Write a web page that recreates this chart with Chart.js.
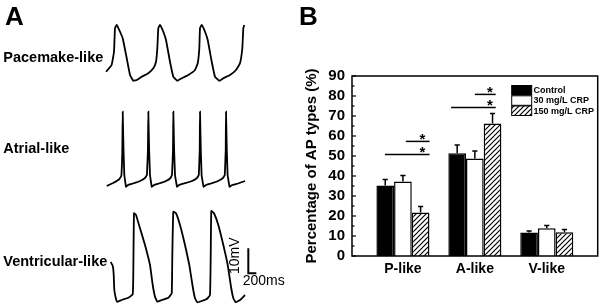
<!DOCTYPE html>
<html><head><meta charset="utf-8">
<script src="https://cdn.jsdelivr.net/npm/chart.js@4.4.1/dist/chart.umd.min.js"></script>
<style>
html,body{margin:0;padding:0;background:#fff;width:600px;height:306px;overflow:hidden}
#a{position:absolute;left:0;top:0}
#b{position:absolute;left:300px;top:0}
</style></head><body>
<canvas id="a" width="300" height="306"></canvas>
<canvas id="b" width="300" height="306"></canvas>
<script>
// ---------- Panel A: action potential traces, [time (ms), voltage (mV, relative)] ----------
const pacemakerTrace = [
 [150,3.7],[290,6.4],[350,11.7],[375,21.1],[418,22.4],[500,19.7],[568,17.1],[668,9.1],[750,2.4],[833,0.1],
 [918,0.4],[1043,1.7],[1208,3.1],[1333,5.1],[1400,7.7],[1433,13.1],[1458,21.1],[1500,22.4],[1583,19.7],[1650,16.4],
 [1750,7.7],[1833,1.7],[1933,0.1],[2043,1.1],[2208,2.4],[2375,4.4],[2443,7.1],[2483,13.1],[2500,21.1],[2543,22.4],
 [2625,19.7],[2693,16.4],[2793,7.7],[2875,1.7],[2983,0.1],[3083,1.1],[3250,2.4],[3400,4.4],[3500,7.1],[3558,13.1],
 [3583,21.1],[3608,22.4]
];
const atrialTrace = [
 [168,0.4],[325,1.6],[475,3],[533,4.4],[558,14.8],[568,30.1],[588,14.8],[608,4.8],[650,0.1],[700,0.8],
 [825,1.4],[1000,2.4],[1125,3.6],[1173,4.8],[1198,14.8],[1208,30.1],[1228,14.8],[1250,4.8],[1293,0.1],[1350,0.8],
 [1475,1.4],[1650,2.4],[1763,3.6],[1800,4.8],[1825,14.8],[1833,30.1],[1853,14.8],[1875,4.8],[1925,0.1],[1975,0.8],
 [2100,1.4],[2300,2.4],[2425,3.6],[2470,4.8],[2493,14.8],[2500,30.1],[2520,14.8],[2540,4.8],[2588,0.1],[2650,0.8],
 [2775,1.4],[2950,2.4],[3075,3.6],[3120,4.8],[3143,14.8],[3150,30.1],[3170,14.8],[3190,4.8],[3238,0.1],[3300,0.8],
 [3450,1.4],[3625,2.4]
];
const ventricularTrace = [
 [268,16],[320,14.4],[343,10.8],[358,4.8],[400,1.2],[433,0.1],[543,0.8],[708,1.7],[818,3.1],[833,12.1],
 [850,35.5],[900,34.8],[1000,29.5],[1125,22.8],[1250,14.8],[1318,6.8],[1375,2.1],[1433,0.1],[1543,0.8],[1708,1.7],
 [1793,3.5],[1808,18.8],[1833,36.1],[1900,35.5],[2000,30.8],[2125,22.8],[2233,14.8],[2318,6.1],[2375,1.5],[2433,-0.1],
 [2543,0.4],[2668,1.2],[2750,2.8],[2768,18.8],[2783,36.4],[2850,35.5],[2958,30.8],[3083,22.8],[3193,14.8],[3275,6.1],
 [3333,1.5],[3393,-0.1],[3500,0.8],[3625,2.8]
];
const traceLabels = ['Pacemake-like','Atrial-like','Ventricular-like'];
const scaleBarMs = 200;
const scaleBarMV = 10;
const scaleBarOrigin = [3708, 11.5];

// ---------- Panel B: percentage of AP types ----------
const categories = ['P-like','A-like','V-like'];
const seriesNames = ['Control','30 mg/L CRP','150 mg/L CRP'];
const controlValues = [35.2, 51.4, 11.7];
const crp30Values   = [37.2, 48.7, 13.9];
const crp150Values  = [21.8, 66.3, 11.9];
const controlErr = [3.1, 4.1, 0.8];
const crp30Err   = [3.0, 3.8, 1.3];
const crp150Err  = [2.9, 5.0, 1.3];
const yTicks = [0,10,20,30,40,50,60,70,80,90];
// significance brackets: from x1 to x2 (category units), at height y (%), star above at starX
const sigBrackets = [
 {x1:0.75, x2:1.37, y:50.8, starX:1.27},
 {x1:1.04, x2:1.37, y:57.3, starX:1.27},
 {x1:1.67, x2:2.29, y:74.3, starX:2.21},
 {x1:2.00, x2:2.29, y:80.8, starX:2.21}
];

const FONT = '"Liberation Sans", Arial, Helvetica, sans-serif';

// ---------- Chart A ----------
const toXY = arr => arr.map(p => ({x:p[0], y:p[1]}));
const scaleBar = [
 {x:scaleBarOrigin[0], y:scaleBarOrigin[1]+scaleBarMV},
 {x:scaleBarOrigin[0], y:scaleBarOrigin[1]},
 {x:scaleBarOrigin[0]+scaleBarMs, y:scaleBarOrigin[1]}
];
const traceStyle = {showLine:true, borderColor:'#000', borderWidth:1.8, pointRadius:0, tension:0.1, fill:false};

const panelALabels = {
 id:'panelALabels',
 afterDraw(chart){
  const ctx = chart.ctx;
  ctx.save();
  ctx.fillStyle = '#000';
  ctx.textAlign = 'left'; ctx.textBaseline = 'alphabetic';
  ctx.font = 'bold 26px ' + FONT;
  ctx.fillText('A', 5, 25);
  ctx.font = 'bold 14.5px ' + FONT;
  const base = [61.7, 153.3, 266];
  traceLabels.forEach((t,i)=>ctx.fillText(t, 3.3, base[i]));
  // scale bar labels
  const xs = chart.scales.x, y3 = chart.scales.y3;
  const bx = xs.getPixelForValue(scaleBarOrigin[0]);
  const by = y3.getPixelForValue(scaleBarOrigin[1]);
  const byTop = y3.getPixelForValue(scaleBarOrigin[1]+scaleBarMV);
  ctx.font = '14px ' + FONT;
  ctx.fillText(scaleBarMs + 'ms', bx - 5.6, by + 12);
  ctx.translate(bx - 13, (by+byTop)/2 - 5);
  ctx.rotate(-Math.PI/2);
  ctx.textAlign = 'center'; ctx.textBaseline = 'middle';
  ctx.fillText(scaleBarMV + 'mV', 0, 0);
  ctx.restore();
 }
};

new Chart(document.getElementById('a'), {
 type:'scatter',
 data:{datasets:[
  Object.assign({data:toXY(pacemakerTrace), yAxisID:'y1'}, traceStyle),
  Object.assign({data:toXY(atrialTrace), yAxisID:'y2'}, traceStyle, {tension:0.05}),
  Object.assign({data:toXY(ventricularTrace), yAxisID:'y3'}, traceStyle),
  {data:scaleBar, yAxisID:'y3', showLine:true, borderColor:'#000', borderWidth:2, pointRadius:0, tension:0}
 ]},
 options:{
  animation:false, responsive:false, events:[],
  layout:{padding:0},
  plugins:{legend:{display:false}, tooltip:{enabled:false}},
  scales:{
   x:{type:'linear', display:false, min:-2500, max:5000},
   y1:{type:'linear', display:false, min:-90, max:32.4},
   y2:{type:'linear', display:false, min:-47.6, max:74.8},
   y3:{type:'linear', display:false, min:-1.6, max:120.8}
  }
 },
 plugins:[panelALabels]
});

// ---------- Chart B ----------
function makeHatch(){
 const s = 5;
 const c = document.createElement('canvas'); c.width = s; c.height = s;
 const g = c.getContext('2d');
 g.fillStyle = '#fff'; g.fillRect(0,0,s,s);
 g.strokeStyle = '#000'; g.lineWidth = 1.2;
 g.beginPath();
 g.moveTo(0,s); g.lineTo(s,0);
 g.moveTo(-1,1); g.lineTo(1,-1);
 g.moveTo(s-1,s+1); g.lineTo(s+1,s-1);
 g.stroke();
 return g.createPattern(c,'repeat');
}
const hatch = makeHatch();

const panelBExtras = {
 id:'panelBExtras',
 afterDatasetsDraw(chart){
  const ctx = chart.ctx, xs = chart.scales.x, ys = chart.scales.y, a = chart.chartArea;
  ctx.save();
  ctx.strokeStyle = '#000'; ctx.fillStyle = '#000'; ctx.lineWidth = 1.5;
  // error bars (upper only)
  chart.data.datasets.forEach((ds,i)=>{
   const meta = chart.getDatasetMeta(i);
   meta.data.forEach((bar,j)=>{
    const v = ds.data[j].y, e = ds.err[j];
    const yTop = ys.getPixelForValue(v+e);
    ctx.beginPath();
    ctx.moveTo(bar.x, bar.y); ctx.lineTo(bar.x, yTop);
    ctx.moveTo(bar.x-2.6, yTop); ctx.lineTo(bar.x+2.6, yTop);
    ctx.stroke();
   });
  });
  // frame
  ctx.strokeRect(a.left, a.top, a.right-a.left, a.bottom-a.top);
  // inward ticks
  ctx.lineWidth = 1.2;
  for(let v=0; v<=90; v+=5){
   const y = ys.getPixelForValue(v);
   ctx.beginPath(); ctx.moveTo(a.left, y); ctx.lineTo(a.left + (v%10===0 ? 4 : 2.5), y); ctx.stroke();
  }
  // significance brackets
  ctx.lineWidth = 1.5;
  ctx.font = 'bold 15px ' + FONT; ctx.textAlign = 'center'; ctx.textBaseline = 'alphabetic';
  sigBrackets.forEach(b=>{
   const y = ys.getPixelForValue(b.y);
   ctx.beginPath(); ctx.moveTo(xs.getPixelForValue(b.x1), y); ctx.lineTo(xs.getPixelForValue(b.x2), y); ctx.stroke();
   ctx.fillText('*', xs.getPixelForValue(b.starX), y + 3);
  });
  // legend
  const rows = [85.5, 95.8, 106];
  ctx.font = 'bold 9px ' + FONT; ctx.textAlign = 'left'; ctx.textBaseline = 'middle';
  chart.data.datasets.forEach((ds,i)=>{
   ctx.fillStyle = ds.backgroundColor;
   ctx.fillRect(211.7, rows[i], 20, 9.5);
   ctx.lineWidth = 1; ctx.strokeStyle = '#000';
   ctx.strokeRect(211.7, rows[i], 20, 9.5);
   ctx.fillStyle = '#000';
   ctx.fillText(ds.label, 233.5, rows[i] + 5.2);
  });
  // panel letter
  ctx.font = 'bold 26px ' + FONT; ctx.textBaseline = 'alphabetic';
  ctx.fillText('B', -1, 25);
  ctx.restore();
 }
};

const mk = (vals) => categories.map((c,i)=>({x:i+1, y:vals[i]}));
new Chart(document.getElementById('b'), {
 type:'bar',
 data:{datasets:[
  {label:seriesNames[0], data:mk(controlValues), err:controlErr, backgroundColor:'#000', borderColor:'#000', borderWidth:1.5},
  {label:seriesNames[1], data:mk(crp30Values), err:crp30Err, backgroundColor:'#fff', borderColor:'#000', borderWidth:1.5},
  {label:seriesNames[2], data:mk(crp150Values), err:crp150Err, backgroundColor:hatch, borderColor:'#000', borderWidth:1.5}
 ]},
 options:{
  animation:false, responsive:false, events:[],
  layout:{padding:{top:76, right:2.3, left:0, bottom:0}},
  datasets:{bar:{categoryPercentage:0.7375, barPercentage:1}},
  plugins:{legend:{display:false}, tooltip:{enabled:false}},
  scales:{
   x:{type:'linear', min:0.292, max:3.708, offset:false, bounds:'ticks',
      grid:{display:false, drawTicks:false, offset:false}, border:{display:false},
      afterDataLimits:s=>{ s.min = 0.292; s.max = 3.708; },
      afterBuildTicks:s=>{ s.ticks = categories.map((c,i)=>({value:i+1})); },
      ticks:{callback:v=>categories[v-1], color:'#000', font:{family:FONT, size:14, weight:'bold'}, padding:5, autoSkip:false, maxRotation:0},
      afterFit:s=>{ s.height = 50; }},
   y:{type:'linear', min:0, max:90,
      afterBuildTicks:s=>{ s.ticks = yTicks.map(v=>({value:v})); },
      grid:{display:false, drawTicks:false}, border:{display:false},
      ticks:{color:'#000', font:{family:FONT, size:15, weight:'bold'}, padding:7, autoSkip:false},
      title:{display:true, text:'Percentage of AP types (%)', color:'#000', font:{family:FONT, size:15, weight:'bold'}, padding:{top:2.5, bottom:0}},
      afterFit:s=>{ s.width = 52; }}
  }
 },
 plugins:[panelBExtras]
});
</script>
</body></html>
